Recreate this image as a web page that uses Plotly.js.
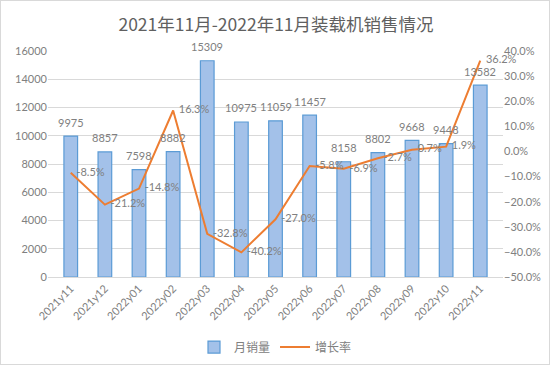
<!DOCTYPE html>
<html><head><meta charset="utf-8">
<script src="https://cdn.plot.ly/plotly-3.0.1.min.js"></script>
<style>html,body{margin:0;padding:0;background:#fff}#c{width:550px;height:365px;box-sizing:border-box;border:1px solid #d9d9d9}</style>
</head><body><div id="c"></div>
<script>
const categories = ["2021y11","2021y12","2022y01","2022y02","2022y03","2022y04","2022y05","2022y06","2022y07","2022y08","2022y09","2022y10","2022y11"];
const sales = [9975,8857,7598,8882,15309,10975,11059,11457,8158,8802,9668,9448,13582];
const growth = [-8.5,-21.2,-14.8,16.3,-32.8,-40.2,-27.0,-5.8,-6.9,-2.7,0.7,1.9,36.2];
const salesName = "月销量";
const growthName = "增长率";
const titleText = "2021年11月-2022年11月装载机销售情况";

const fontNum = "Lato, 'Noto Sans CJK SC', sans-serif";
const fontCJK = "'Noto Sans CJK SC', sans-serif";
const gray = "#808080";

const traces = [
  {type:"bar", x:categories, y:sales, name:salesName,
   marker:{color:"#a3c1e9", line:{color:"#5b9bd5", width:1.2}},
   width:0.4, hoverinfo:"none"},
  {type:"scatter", mode:"lines+text", x:categories, y:growth.map(v=>v/100), yaxis:"y2", name:growthName,
   line:{color:"#ed7d31", width:2}, text:growth.map(v=>"\u00a0\u00a0"+v.toFixed(1)+"%"), textposition:"middle right",
   cliponaxis:false, textfont:{family:fontNum, size:11, color:gray}, hoverinfo:"none"}
];

const barLabels = categories.map((c,i)=>({
  x:c, y:sales[i], xref:"x", yref:"y", text:String(sales[i]), showarrow:false,
  yanchor:"middle", yshift:14, font:{family:fontNum, size:11, color:gray}
}));

const layout = {
  width:550, height:365,
  margin:{l:47, r:48, t:50, b:89, autoexpand:false},
  paper_bgcolor:"rgba(0,0,0,0)", plot_bgcolor:"#fff",
  title:{text:titleText, x:0.5, xanchor:"center", y:0.935, yanchor:"middle", font:{family:fontCJK, size:17.5, color:"#606060"}},
  showlegend:true,
  legend:{orientation:"h", x:0.5, xanchor:"center", y:-0.31, yanchor:"middle", font:{family:fontCJK, size:12, color:gray}, traceorder:"normal"},
  annotations:barLabels,
  xaxis:{tickangle:-45, tickfont:{family:fontNum, size:11, color:gray}, showline:true, linecolor:"#d9d9d9", ticks:"", fixedrange:true},
  yaxis:{range:[0,16000], dtick:2000, tickfont:{family:fontNum, size:11, color:gray}, gridcolor:"#d9d9d9", zeroline:false, showline:false, ticks:"", tickformat:"d"},
  yaxis2:{overlaying:"y", side:"right", range:[-0.5,0.4], dtick:0.1, tickformat:".1%", showgrid:false, zeroline:false, tickfont:{family:fontNum, size:11, color:gray}, ticks:""},
};
Plotly.newPlot("c", traces, layout, {displayModeBar:false, staticPlot:true});
</script></body></html>
